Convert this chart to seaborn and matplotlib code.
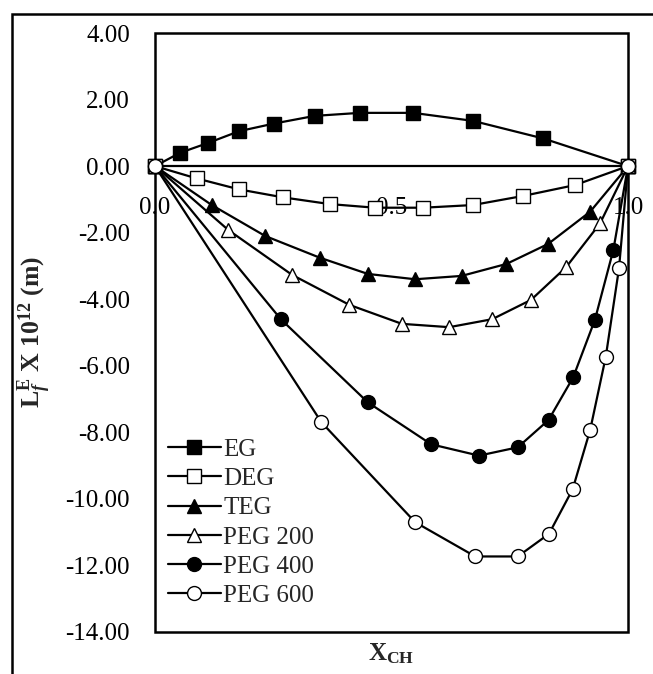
import numpy as np
import pandas as pd
import matplotlib
matplotlib.use("Agg")
import matplotlib.pyplot as plt
from matplotlib.patches import Rectangle
import seaborn as sns

# ---------------- data ----------------
x_eg = [0.0, 0.053, 0.113, 0.178, 0.252, 0.338, 0.433, 0.546, 0.672, 0.821, 1.0]
y_eg = [0.0, 0.40, 0.70, 1.05, 1.28, 1.51, 1.60, 1.60, 1.36, 0.83, 0.0]

x_deg = [0.0, 0.088, 0.178, 0.271, 0.369, 0.465, 0.567, 0.672, 0.777, 0.888, 1.0]
y_deg = [0.0, -0.37, -0.70, -0.94, -1.14, -1.25, -1.25, -1.17, -0.90, -0.57, 0.0]

x_teg = [0.0, 0.120, 0.233, 0.348, 0.450, 0.550, 0.648, 0.743, 0.831, 0.920, 1.0]
y_teg = [0.0, -1.17, -2.10, -2.75, -3.24, -3.40, -3.30, -2.94, -2.34, -1.37, 0.0]

x_peg200 = [0.0, 0.155, 0.290, 0.411, 0.522, 0.622, 0.713, 0.795, 0.869, 0.941, 1.0]
y_peg200 = [0.0, -1.92, -3.27, -4.17, -4.74, -4.84, -4.60, -4.02, -3.04, -1.72, 0.0]

x_peg400 = [0.0, 0.266, 0.450, 0.584, 0.685, 0.767, 0.832, 0.884, 0.930, 0.969, 1.0]
y_peg400 = [0.0, -4.60, -7.10, -8.36, -8.70, -8.45, -7.63, -6.35, -4.62, -2.52, 0.0]

x_peg600 = [0.0, 0.352, 0.550, 0.677, 0.767, 0.833, 0.883, 0.920, 0.953, 0.981, 1.0]
y_peg600 = [0.0, -7.70, -10.70, -11.73, -11.73, -11.05, -9.71, -7.93, -5.73, -3.07, 0.0]

series_names = ["EG", "DEG", "TEG", "PEG 200", "PEG 400", "PEG 600"]
x_ticks = [0.0, 0.5, 1.0]
x_tick_labels = ["0.0", "0.5", "1.0"]
y_ticks = [4, 2, 0, -2, -4, -6, -8, -10, -12, -14]
y_tick_labels = ["4.00", "2.00", "0.00", "-2.00", "-4.00", "-6.00",
                 "-8.00", "-10.00", "-12.00", "-14.00"]

# ---------------- style ----------------
sns.set_style("white")
plt.rcParams["font.family"] = ["Liberation Serif", "DejaVu Serif"]
plt.rcParams["mathtext.fontset"] = "custom"
plt.rcParams["mathtext.rm"] = "Liberation Serif:bold"
plt.rcParams["mathtext.it"] = "Liberation Serif:italic:bold"
plt.rcParams["mathtext.bf"] = "Liberation Serif:bold"

W, H = 653, 674
fig = plt.figure(figsize=(W / 100, H / 100), dpi=100)
ax = fig.add_axes([155 / W, 1 - 632 / H, 473 / W, 599 / H])

styles = [
    ("s", "black"),
    ("s", "white"),
    ("^", "black"),
    ("^", "white"),
    ("o", "black"),
    ("o", "white"),
]
xs = [x_eg, x_deg, x_teg, x_peg200, x_peg400, x_peg600]
ys = [y_eg, y_deg, y_teg, y_peg200, y_peg400, y_peg600]

for name, xv, yv, (mk, fc) in zip(series_names, xs, ys, styles):
    df = pd.DataFrame({"x": xv, "y": yv})
    sns.lineplot(data=df, x="x", y="y", ax=ax, color="black", lw=1.6,
                 marker=mk, markersize=10 if mk != "^" else 10.5,
                 markerfacecolor=fc, markeredgecolor="black",
                 markeredgewidth=1.0, label=name, sort=False,
                 estimator=None, clip_on=False, zorder=3)

ax.set_xlim(0, 1)
ax.set_ylim(-14, 4)

# axes frame + x axis crossing at zero
for s in ["top", "left", "right"]:
    ax.spines[s].set_visible(False)
ax.spines["bottom"].set_position(("data", 0))
ax.spines["bottom"].set_linewidth(1.6)
ax.spines["bottom"].set_color("black")
ax.spines["bottom"].set_zorder(2)
ax.add_patch(Rectangle((0, 0), 1, 1, transform=ax.transAxes, fill=False,
                       lw=1.8, edgecolor="black", clip_on=False, zorder=2))

ax.set_xticks(x_ticks)
ax.set_xticklabels(x_tick_labels)
ax.set_yticks(y_ticks)
ax.set_yticklabels(y_tick_labels)
ax.tick_params(axis="x", length=0, pad=22, labelsize=18, colors="black")
ax.tick_params(axis="y", length=0, pad=18, labelsize=18, colors="black")

ax.set_xlabel(r"X$_{\mathrm{CH}}$", fontsize=18, fontweight="bold")
ax.xaxis.set_label_coords(0.5, -(641 - 632) / 599, transform=ax.transAxes)
ax.set_ylabel(r"L$_{f}^{\mathrm{E}}$ X 10$^{\mathrm{12}}$ (m)",
              fontsize=18.5, fontweight="bold")
ax.yaxis.set_label_coords(-(155 - 54) / 473, 0.5)

leg = ax.legend(loc="lower left", bbox_to_anchor=(3 / 473, 15 / 599),
                frameon=False, fontsize=18,
                handlelength=2.1, handletextpad=0.1, labelspacing=0.27,
                borderaxespad=0.0, borderpad=0.4, numpoints=1)

# outer figure border (top and left visible)
fig.add_artist(Rectangle((12 / W, -0.1), 1.2, (H - 14) / H + 0.1,
                         transform=fig.transFigure, fill=False,
                         lw=1.8, edgecolor="black"))

fig.savefig("out.png", dpi=100)
